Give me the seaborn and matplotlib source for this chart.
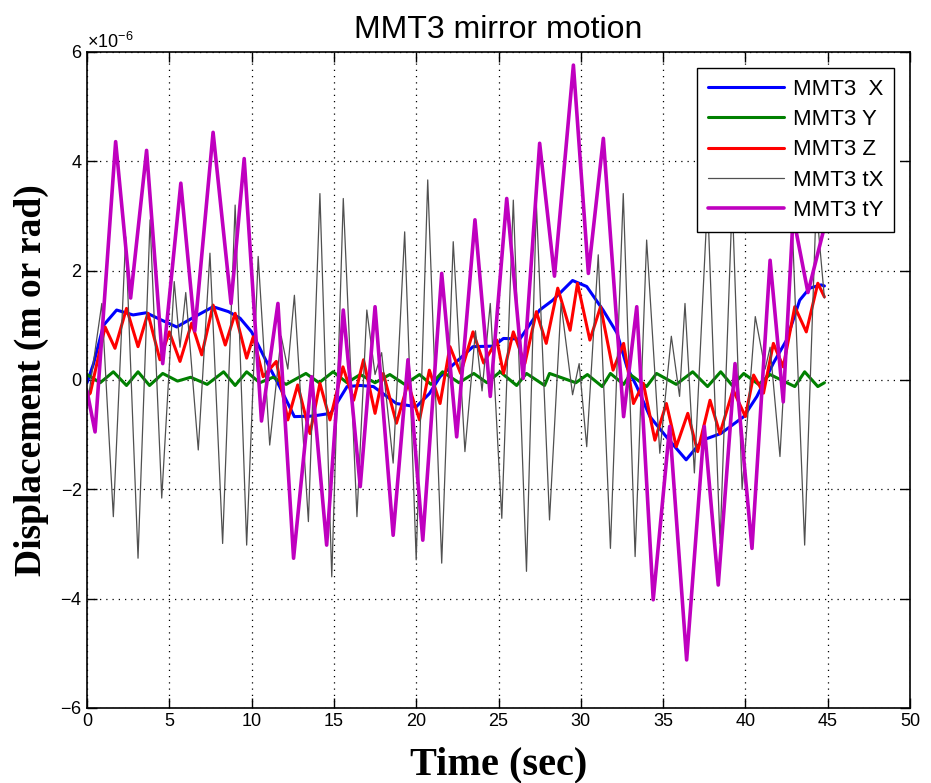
import numpy as np
import pandas as pd
import seaborn as sns
import matplotlib.pyplot as plt
from matplotlib.ticker import ScalarFormatter

sns.set_theme(style="ticks")
plt.rcParams['font.family'] = ['Liberation Sans', 'DejaVu Sans']
plt.rcParams['mathtext.fontset'] = 'custom'
plt.rcParams['mathtext.rm'] = 'Liberation Sans'
plt.rcParams['text.color'] = 'black'
plt.rcParams['axes.labelcolor'] = 'black'

# --- values (units of 1e-6) ---
x_t = [0.0, 0.4, 1.0, 1.8, 2.8, 3.6, 4.5, 5.45, 6.5, 7.66, 8.6, 9.3, 10.0, 10.8, 11.7, 12.6,
       13.7, 14.8, 15.8, 16.6, 17.4, 18.8, 20.0, 20.8, 21.45, 22.5, 23.45, 24.7, 25.3, 26.3,
       27.5, 28.3, 29.5, 30.36, 31.35, 32.2, 32.8, 33.4, 34.2, 35.2, 36.4, 37.4, 38.5, 39.9,
       40.7, 41.7, 42.5, 43.3, 43.9, 44.6, 44.8]
x_v = [-0.05, 0.3, 1.0, 1.28, 1.19, 1.23, 1.1, 0.97, 1.15, 1.34, 1.25, 1.13, 0.88, 0.4, -0.12, -0.67,
       -0.66, -0.61, -0.12, -0.1, -0.12, -0.43, -0.49, -0.25, 0.06, 0.35, 0.61, 0.62, 0.76, 0.75,
       1.28, 1.46, 1.82, 1.71, 1.28, 0.86, 0.24, -0.12, -0.67, -1.04, -1.46, -1.1, -0.98, -0.67,
       -0.3, 0.31, 0.73, 1.46, 1.68, 1.74, 1.72]

y_t = [0.0, 0.8, 1.6, 2.4, 3.1, 3.8, 4.6, 5.5, 6.3, 7.3, 8.3, 9.0, 9.7, 10.5, 11.3, 12.1,
       13.3, 14.1, 14.95, 15.8, 16.6, 17.5, 18.4, 19.3, 20.2, 20.9, 21.6, 22.6, 23.5, 24.3,
       25.1, 26.1, 26.7, 27.8, 28.1, 29.7, 30.4, 31.3, 31.8, 32.6, 33.0, 34.0, 34.6, 35.8,
       36.8, 37.7, 38.5, 39.2, 39.9, 40.8, 41.5, 43.0, 43.6, 44.4, 44.8]
y_v = [0.1, -0.05, 0.15, -0.1, 0.15, -0.1, 0.12, -0.02, 0.05, -0.08, 0.15, -0.1, 0.15, -0.05, 0.05, -0.08,
       0.12, -0.05, 0.15, -0.05, 0.1, -0.05, 0.1, -0.08, 0.1, -0.08, 0.15, -0.05, 0.12, -0.05,
       0.15, -0.1, 0.12, -0.1, 0.12, -0.05, 0.1, -0.12, 0.12, -0.08, 0.1, -0.12, 0.12, -0.08,
       0.15, -0.12, 0.15, -0.1, 0.12, -0.08, 0.1, -0.12, 0.15, -0.12, -0.05]

z_t = [0.0, 0.2, 1.1, 1.7, 2.4, 3.1, 3.7, 4.43, 5.0, 5.65, 6.36, 6.97, 7.66, 8.4, 9.0, 9.7,
       10.1, 10.7, 11.5, 12.2, 12.8, 13.55, 14.15, 14.76, 15.55, 16.2, 16.8, 17.5, 18.0, 18.8,
       19.5, 20.2, 20.8, 21.45, 22.05, 22.7, 23.45, 24.1, 24.9, 25.3, 25.9, 26.6, 27.3, 27.9,
       28.6, 29.35, 29.8, 30.55, 31.2, 31.96, 32.6, 33.2, 33.8, 34.5, 35.2, 35.8, 36.5, 37.1,
       37.85, 38.45, 39.25, 40.0, 40.5, 41.1, 41.7, 42.3, 43.0, 43.7, 44.4, 44.8]
z_v = [-0.3, -0.24, 0.97, 0.58, 1.31, 0.61, 1.22, 0.37, 0.88, 0.34, 1.04, 0.46, 1.37, 0.64, 1.22, 0.4,
       0.79, 0.06, 0.34, -0.73, -0.09, -0.98, -0.06, -0.73, 0.24, -0.37, 0.37, -0.61, 0.12, -0.79,
       -0.06, -0.73, 0.18, -0.43, 0.61, 0.12, 0.88, 0.31, 0.73, 0.12, 0.88, 0.3, 1.25, 0.67,
       1.68, 0.91, 1.77, 0.73, 1.34, 0.18, 0.67, -0.43, -0.06, -1.1, -0.43, -1.22, -0.61, -1.31,
       -0.37, -0.98, -0.18, -0.67, 0.09, -0.24, 0.67, 0.24, 1.34, 0.88, 1.77, 1.52]

tx_t = [0.0, 0.9, 1.6, 2.35, 3.1, 3.83, 4.54, 5.3, 5.65, 6.0, 6.76, 7.47, 8.24, 9.0, 9.7, 10.4,
        11.1, 11.8, 12.2, 12.6, 13.45, 14.15, 14.87, 15.57, 16.4, 17.0, 17.5, 17.9, 18.6, 19.3,
        20.0, 20.7, 21.55, 22.25, 22.96, 23.6, 24.0, 24.5, 25.2, 25.9, 26.7, 27.3, 28.1, 28.8,
        29.5, 29.9, 30.36, 31.06, 31.8, 32.58, 33.3, 34.0, 34.8, 35.5, 36.0, 36.33, 36.9, 37.7,
        38.46, 39.2, 39.8, 40.6, 41.2, 41.5, 42.1, 42.85, 43.6, 44.3, 44.8]
tx_v = [-0.5, 1.4, -2.5, 2.62, -3.26, 2.93, -2.16, 1.8, 0.6, 1.6, -1.28, 2.32, -2.99, 3.2, -3.02, 2.26,
        -1.19, 0.8, 0.2, 1.55, -2.59, 3.41, -3.6, 3.32, -2.5, 1.28, 0.1, 0.5, -1.52, 2.71,
        -3.29, 3.66, -3.35, 2.53, -1.31, 0.9, -0.2, 1.4, -2.53, 3.29, -3.5, 3.23, -2.56, 1.4,
        -0.27, 0.3, -1.22, 2.29, -3.08, 3.41, -3.23, 2.56, -1.34, 0.8, -0.3, 1.4, -1.7, 3.3,
        -2.99, 3.3, -2.0, 1.16, 0.2, 0.6, -1.4, 2.8, -3.02, 3.2, 1.5]

ty_t = [0.0, 0.49, 1.74, 2.65, 3.62, 4.6, 5.7, 6.55, 7.66, 8.75, 9.55, 10.6, 11.6, 12.55,
        13.65, 14.56, 15.57, 16.6, 17.5, 18.6, 19.5, 20.4, 21.55, 22.46, 23.57, 24.5, 25.5,
        26.5, 27.5, 28.4, 29.55, 30.46, 31.37, 32.6, 33.4, 34.4, 35.4, 36.43, 37.5, 38.35,
        39.37, 40.4, 41.5, 42.3, 42.9, 43.8, 44.8]
ty_v = [-0.2, -0.95, 4.36, 1.5, 4.2, 0.3, 3.6, 0.9, 4.53, 1.4, 4.05, -0.75, 1.4, -3.26,
        0.06, -3.02, 1.28, -1.95, 1.34, -2.84, 0.37, -2.93, 1.95, -1.04, 2.93, -0.3, 3.32,
        0.03, 4.33, 1.9, 5.76, 1.95, 4.42, -0.67, 1.34, -4.02, -0.85, -5.12, -0.85, -3.75,
        0.3, -3.08, 2.19, -0.4, 3.0, 1.6, 2.8]

series = [
    ("MMT3  X", x_t, x_v, "#0000ff", 2.2),
    ("MMT3 Y", y_t, y_v, "#008000", 2.2),
    ("MMT3 Z", z_t, z_v, "#ff0000", 2.2),
    ("MMT3 tX", tx_t, tx_v, "#505050", 0.9),
    ("MMT3 tY", ty_t, ty_v, "#bf00bf", 2.6),
]

fig, ax = plt.subplots(figsize=(9.31, 7.83), dpi=100)
fig.subplots_adjust(left=87 / 931, right=910 / 931, top=1 - 52 / 783, bottom=1 - 708 / 783)

for name, t, v, color, lw in series:
    df = pd.DataFrame({"time": t, "disp": np.array(v) * 1e-6})
    sns.lineplot(data=df, x="time", y="disp", ax=ax, color=color, linewidth=lw,
                 label=name, estimator=None, sort=False)

ax.set_xlim(0, 50)
ax.set_ylim(-6e-6, 6e-6)
ax.set_xticks(np.arange(0, 51, 5))
ax.set_yticks(np.arange(-6, 7, 2) * 1e-6)
fmt = ScalarFormatter(useMathText=True)
fmt.set_powerlimits((0, 0))
ax.yaxis.set_major_formatter(fmt)
ax.yaxis.get_offset_text().set_fontsize(13)

ax.grid(True, color="black", linestyle=(0, (1, 4)), linewidth=0.9)
ax.tick_params(direction="in", length=7, width=1, top=True, right=True,
               labelsize=13, colors="black")
for s in ax.spines.values():
    s.set_color("black")
    s.set_linewidth(1.2)

ax.set_title("MMT3 mirror motion", fontsize=23, pad=10, color="black")
ax.set_xlabel("Time (sec)", family=["Liberation Serif"], fontweight="bold", fontsize=29, labelpad=12)
ax.set_ylabel("Displacement (m or rad)", family=["Liberation Serif"], fontweight="bold",
              fontsize=27, labelpad=8)

leg = ax.legend(loc="upper right", fontsize=16, frameon=True, fancybox=False,
                edgecolor="black", framealpha=1, handlelength=3.4, borderaxespad=0.7,
                labelspacing=0.42, handletextpad=0.4, borderpad=0.5)
leg.get_frame().set_linewidth(1.0)
for txt in leg.get_texts():
    txt.set_color("black")

fig.savefig("out.png", dpi=100)
